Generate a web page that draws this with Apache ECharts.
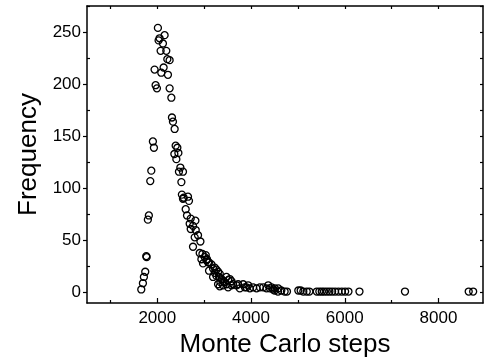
<!DOCTYPE html>
<html>
<head>
<meta charset="utf-8">
<script src="https://cdn.jsdelivr.net/npm/echarts@6/dist/echarts.min.js"></script>
<style>
html,body{margin:0;padding:0;background:#fff;}
#chart{width:484px;height:360px;}
</style>
</head>
<body>
<div id="chart"></div>
<script>
// Monte Carlo steps (x) and frequency (y)
var steps = [
  1658,1693,1714,1743,1765,1772,1799,1820,1850,1872,1906,1928,1942,1964,1992,
  2013,2028,2049,2071,2085,2120,2135,2156,2192,2214,2227,2263,2263,2300,2313,
  2334,2364,2370,2392,2407,2428,2450,2462,2492,2514,2525,2548,2548,2563,2606,
  2634,2655,2676,2691,2713,2713,2762,2762,2798,2813,2820,2869,2905,2920,2941,
  2963,2976,3012,3034,3049,3061,3083,3104,3104,3156,3190,3190,3226,3226,3262,
  3262,3297,3297,3319,3333,3333,3347,3370,3404,3404,3440,3476,3476,3511,3511,
  3547,3583,3583,3618,3690,3725,3761,3832,3868,3904,3939,3975,4046,4118,4189,
  4260,4332,4368,4403,4439,4474,4504,4510,4575,4581,4646,4717,4767,5009,5060,
  5116,5189,5245,5403,5458,5510,5559,5617,5672,5730,5794,5865,5938,6008,6079,
  6314,7285,8645,8740
];
var frequency = [
  3,9,15,20,35,34,70,74,107,117,145,139,214,199,196,
  254,242,244,232,211,239,216,247,232,224,209,223,196,187,168,
  164,133,157,141,128,139,134,116,120,106,94,116,90,91,80,
  74,92,88,66,71,61,64,44,53,69,60,55,38,49,32,
  37,28,34,36,31,32,29,21,29,27,23,15,24,19,22,
  16,20,8,15,18,6,10,13,11,7,10,15,8,12,5,
  13,11,7,8,7,8,4,8,5,5,7,4,5,4,5,
  5,4,7,4,5,3,2,4,1,4,2,1,1,2,2,
  1,1,1,1,1,1,1,1,1,1,1,1,1,1,1,
  1,1,1,1
];
var xLabelValues = [2000, 4000, 6000, 8000];
var xMinorValues = [1000, 3000, 5000, 7000];
var xAllTicks = [1000, 2000, 3000, 4000, 5000, 6000, 7000, 8000];
var yLabelValues = [0, 50, 100, 150, 200, 250];
var yMinorValues = [25, 75, 125, 175, 225, 275];
var yAllTicks = [0, 25, 50, 75, 100, 125, 150, 175, 200, 225, 250, 275];

var points = steps.map(function (s, i) { return [s, frequency[i]]; });

var FONT = 'Liberation Sans, Arial, sans-serif';
var XMIN = 500, XMAX = 8950, YMIN = -10, YMAX = 275;
var lineS = {color: '#000', width: 1.5};
var plain = function (v) { return String(v); };

var chart = echarts.init(document.getElementById('chart'), null, {renderer: 'canvas'});
chart.setOption({
  animation: false,
  backgroundColor: '#fff',
  grid: {left: 87, right: 1, top: 6, bottom: 57, containLabel: false, outerBoundsMode: 'none'},
  xAxis: [
    {
      type: 'value', gridIndex: 0, position: 'bottom', min: XMIN, max: XMAX,
      axisLine: {show: true, onZero: false, lineStyle: lineS},
      axisTick: {show: true, inside: true, length: 5, customValues: xLabelValues, lineStyle: {color: '#000', width: 1.2}},
      axisLabel: {show: true, customValues: xLabelValues, formatter: plain, fontSize: 17, color: '#000', fontFamily: FONT, margin: 7},
      splitLine: {show: false},
      name: 'Monte Carlo steps', nameLocation: 'middle', nameGap: 25,
      nameTextStyle: {fontSize: 26, color: '#000', fontFamily: FONT}
    },
    {
      type: 'value', gridIndex: 0, position: 'bottom', min: XMIN, max: XMAX,
      axisLine: {show: false, onZero: false},
      axisTick: {show: true, inside: true, length: 3, customValues: xMinorValues, lineStyle: {color: '#000', width: 1.2}},
      axisLabel: {show: false}, splitLine: {show: false}
    },
    {
      type: 'value', gridIndex: 0, position: 'top', min: XMIN, max: XMAX,
      axisLine: {show: true, onZero: false, lineStyle: lineS},
      axisTick: {show: true, inside: true, length: 3, customValues: xAllTicks, lineStyle: {color: '#000', width: 1.2}},
      axisLabel: {show: false}, splitLine: {show: false}
    }
  ],
  yAxis: [
    {
      type: 'value', gridIndex: 0, position: 'left', min: YMIN, max: YMAX,
      axisLine: {show: true, onZero: false, lineStyle: lineS},
      axisTick: {show: true, inside: false, length: 4, customValues: yLabelValues, lineStyle: {color: '#000', width: 1.2}},
      axisLabel: {show: true, customValues: yLabelValues, formatter: plain, fontSize: 17, color: '#000', fontFamily: FONT, margin: 6},
      splitLine: {show: false},
      name: 'Frequency', nameLocation: 'middle', nameGap: 44, nameRotate: 90,
      nameTextStyle: {fontSize: 26, color: '#000', fontFamily: FONT}
    },
    {
      type: 'value', gridIndex: 0, position: 'left', min: YMIN, max: YMAX,
      axisLine: {show: false, onZero: false},
      axisTick: {show: true, inside: true, length: 3, customValues: yMinorValues, lineStyle: {color: '#000', width: 1.2}},
      axisLabel: {show: false}, splitLine: {show: false}
    },
    {
      type: 'value', gridIndex: 0, position: 'right', min: YMIN, max: YMAX,
      axisLine: {show: true, onZero: false, lineStyle: lineS},
      axisTick: {show: true, inside: true, length: 3, customValues: yAllTicks, lineStyle: {color: '#000', width: 1.2}},
      axisLabel: {show: false}, splitLine: {show: false}
    }
  ],
  series: [{
    type: 'scatter',
    xAxisIndex: 0, yAxisIndex: 0,
    data: points,
    symbol: 'circle',
    symbolSize: 7,
    itemStyle: {color: 'rgba(255,255,255,0)', borderColor: '#000', borderWidth: 1.3, opacity: 1}
  }]
});
</script>
</body>
</html>
